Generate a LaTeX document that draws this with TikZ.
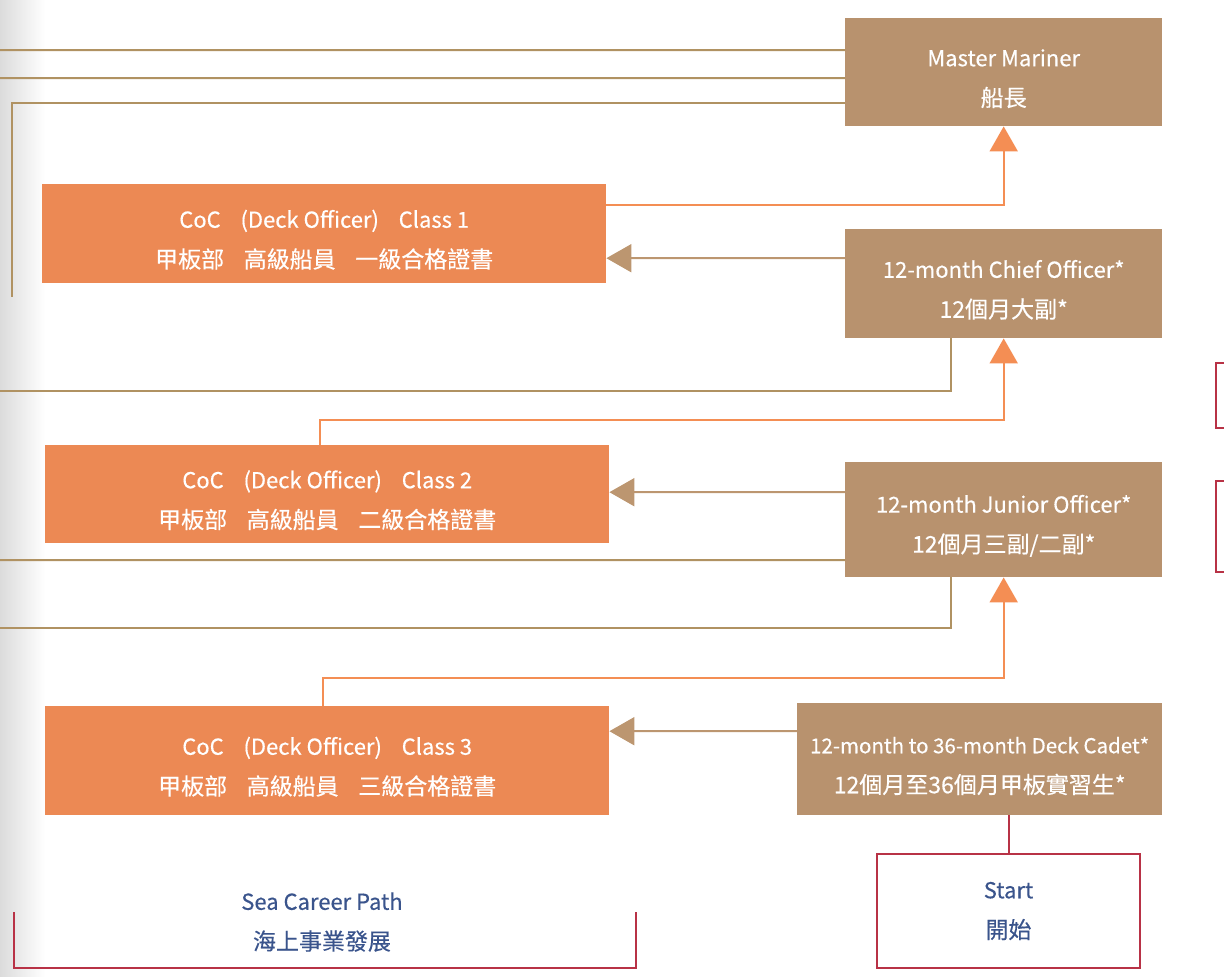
\documentclass[tikz,border=0pt]{standalone}
\usepackage{fontspec}
\setmainfont{Noto Sans CJK TC}[FakeBold=0.4]
\usetikzlibrary{arrows.meta,positioning}
\definecolor{boxbrown}{RGB}{184,146,110}
\definecolor{boxorange}{RGB}{236,137,84}
\definecolor{arroworange}{RGB}{244,142,84}
\definecolor{linetan}{RGB}{176,146,98}
\definecolor{arrowtan}{RGB}{188,150,112}
\definecolor{crimson}{RGB}{184,50,70}
\definecolor{textblue}{RGB}{58,84,140}
\newcommand\en{\fontsize{22bp}{26bp}\selectfont}
\newcommand\zh{\fontsize{23bp}{26bp}\selectfont}
% pushes the two lines a little lower in the box
\newcommand\tp{\rule{0pt}{30bp}}
\tikzset{
  >={Triangle[length=25bp,width=28bp]},
  bb/.style={rectangle, fill=boxbrown, text=white, align=center, anchor=north west, minimum width=317bp, minimum height=#1, font=\en},
  ob/.style={rectangle, fill=boxorange, text=white, align=center, anchor=north west, minimum width=564bp, minimum height=#1, font=\en},
  sb/.style={rectangle, draw=crimson, line width=2bp, fill=white, text=textblue, align=center, anchor=north west, minimum width=263bp, minimum height=114bp, font=\en},
  ln/.style={draw=linetan, line width=2bp},
  rl/.style={draw=crimson, line width=2bp},
  up/.style={draw=arroworange, line width=2bp, ->},
  bk/.style={draw=arrowtan, line width=2bp, ->}
}
\begin{document}
\begin{tikzpicture}[x=1bp,y=-1bp]
  \useasboundingbox (0,0) rectangle (1224,977);
  \clip (0,0) rectangle (1224,977);
  \shade[left color=black!14, right color=white] (0,0) rectangle (45,977);

  % sea service
  \node[bb=108bp] (mm) at (845,18) {\tp Master Mariner\\[14bp]\zh 船長};
  \node[bb=109bp] (co) at (845,229) {\tp 12-month Chief Officer*\\[14bp]\zh 12個月大副*};
  \node[bb=115bp] (jo) at (845,462) {\tp 12-month Junior Officer*\\[14bp]\zh 12個月三副/二副*};
  \node[bb=112bp, minimum width=365bp] (dc) at (797,703) {\tp\fontsize{20.5bp}{26bp}\selectfont 12-month to 36-month Deck Cadet*\\[14bp]\zh 12個月至36個月甲板實習生*};
  \node[sb] (st) at (876,853) {Start\\[14bp]\zh 開始};

  % certificates
  \node[ob=99bp] (c1) at (42,184) {\tp CoC\hspace{.9em}(Deck Officer)\hspace{.9em}Class 1\\[14bp]\zh 甲板部\hspace{.85em}高級船員\hspace{.85em}一級合格證書};
  \node[ob=98bp] (c2) at (45,445) {\tp CoC\hspace{.9em}(Deck Officer)\hspace{.9em}Class 2\\[14bp]\zh 甲板部\hspace{.85em}高級船員\hspace{.85em}二級合格證書};
  \node[ob=109bp] (c3) at (45,706) {\tp CoC\hspace{.9em}(Deck Officer)\hspace{.9em}Class 3\\[14bp]\zh 甲板部\hspace{.85em}高級船員\hspace{.85em}三級合格證書};

  % left ends
  \coordinate (l1) at (-5,50);
  \coordinate (l2) at (-5,78);
  \coordinate (l3) at (12,297);
  \coordinate (l4) at (-5,391);
  \coordinate (l5) at (-5,560);
  \coordinate (l6) at (-5,628);

  \draw[ln] ([yshift=22bp]mm.west) -- (l1);
  \draw[ln] ([yshift=-6bp]mm.west) -- (l2);
  \draw[ln] ([yshift=-31bp]mm.west) -| (l3);
  \draw[ln] ([xshift=-52.5bp]co.south) |- (l4);
  \draw[ln] ([yshift=-40.5bp]jo.west) -- (l5);
  \draw[ln] ([xshift=-52.5bp]jo.south) |- (l6);

  % promotion
  \draw[up] ([yshift=28.5bp]c1.east) -| (mm.south);
  \draw[up] ([xshift=-7bp]c2.north) -- ++(0,-25) -| (co.south);
  \draw[up] ([xshift=-4.5bp]c3.north) -- ++(0,-28) -| (jo.south);

  % exams
  \draw[bk] ([yshift=25.5bp]co.west) -- ([yshift=-24.5bp]c1.east);
  \draw[bk] ([yshift=27.5bp]jo.west) -- ([yshift=2bp]c2.east);
  \draw[bk] ([yshift=28bp]dc.west) -- ([yshift=29.5bp]c3.east);

  \draw[rl] (dc.south -| st.north) -- (st.north);

  % bracket
  \draw[rl] (14,912) |- (636,968) -- (636,912);
  \node[text=textblue, align=center, font=\en] (sp) at (322,922) {Sea Career Path\\[14bp]\zh 海上事業發展};

  % cut off at the edge
  \draw[rl] (1216,363) rectangle (1240,428);
  \draw[rl] (1216,481) rectangle (1240,572);
\end{tikzpicture}
\end{document}
